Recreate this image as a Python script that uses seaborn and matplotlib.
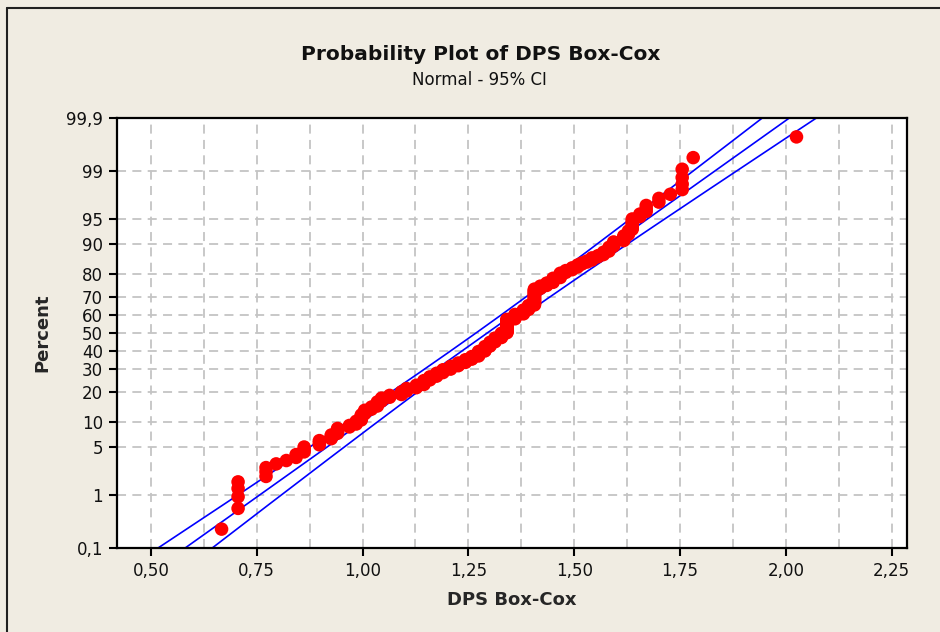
import numpy as np
import pandas as pd
import matplotlib
matplotlib.use("Agg")
import matplotlib.pyplot as plt
from matplotlib.lines import Line2D
from matplotlib.ticker import FixedLocator, MultipleLocator
import seaborn as sns
from statistics import NormalDist

# ---- data (distinct values and how many points share them)
values = [0.667, 0.706, 0.772, 0.796, 0.820, 0.843, 0.862, 0.898, 0.926, 0.941,
          0.969, 0.985, 0.997, 1.005, 1.021, 1.035, 1.045, 1.064, 1.092, 1.104,
          1.127, 1.145, 1.159, 1.175, 1.190, 1.208, 1.226, 1.243, 1.258, 1.274,
          1.289, 1.301, 1.313, 1.328, 1.341, 1.360, 1.380, 1.392, 1.406, 1.420,
          1.435, 1.450, 1.467, 1.480, 1.495, 1.508, 1.518, 1.530, 1.542, 1.556,
          1.569, 1.582, 1.593, 1.617, 1.628, 1.637, 1.655, 1.670, 1.700, 1.727,
          1.755, 1.781, 2.025]
counts = [1, 4, 3, 1, 1, 2, 3, 3, 3, 4,
          2, 3, 5, 4, 3, 5, 4, 3, 4, 4,
          4, 6, 5, 5, 5, 5, 5, 5, 5, 8,
          8, 7, 7, 8, 23, 8, 7, 7, 24, 4,
          4, 6, 6, 3, 3, 3, 2, 2, 3, 2,
          3, 4, 4, 4, 3, 6, 2, 3, 2, 1,
          4, 1, 1]

# fitted normal line
fit_mean = 1.2945
fit_stdev = 0.2309
ci_z = 1.96

x_ticks = [0.50, 0.75, 1.00, 1.25, 1.50, 1.75, 2.00, 2.25]
y_ticks = [0.1, 1, 5, 10, 20, 30, 40, 50, 60, 70, 80, 90, 95, 99, 99.9]

title = "Probability Plot of DPS Box-Cox"
subtitle = "Normal - 95% CI"
x_label = "DPS Box-Cox"
y_label = "Percent"

# ---- normal probability scale
_nd = NormalDist()


def _fwd(p):
    a = np.asarray(p, dtype=float)
    q = np.clip(a / 100.0, 1e-12, 1 - 1e-12)
    out = np.array([_nd.inv_cdf(v) if np.isfinite(v) else np.nan for v in q.ravel()])
    return out.reshape(a.shape)


def _inv(z):
    a = np.asarray(z, dtype=float)
    out = np.array([_nd.cdf(v) * 100.0 if not np.isnan(v) else np.nan for v in a.ravel()])
    return out.reshape(a.shape)


# ---- build plot data
x = np.repeat(np.array(values), counts)
n = len(x)
ranks = np.arange(1, n + 1)
pct = (ranks - 0.3) / (n + 0.4) * 100.0
df = pd.DataFrame({"DPS Box-Cox": x, "Percent": pct})

zgrid = np.linspace(-3.4, 3.4, 300)
xp = fit_mean + zgrid * fit_stdev
hw = ci_z * fit_stdev * np.sqrt(1.0 / n + zgrid ** 2 / (2.0 * n))
pgrid = np.array([_nd.cdf(v) * 100.0 for v in zgrid])
lines = pd.DataFrame({
    "x": np.concatenate([xp - hw, xp, xp + hw]),
    "p": np.concatenate([pgrid, pgrid, pgrid]),
    "which": ["lower"] * len(zgrid) + ["fit"] * len(zgrid) + ["upper"] * len(zgrid),
})

# ---- figure
sns.set_theme(style="white")
plt.rcParams["font.family"] = ["DejaVu Sans"]
bg = "#F0ECE2"
fig = plt.figure(figsize=(9.4, 6.32), dpi=100, facecolor=bg)
ax = fig.add_axes([117 / 940, 1 - 548 / 632, (907 - 117) / 940, (548 - 118) / 632])
ax.set_facecolor("white")

ax.set_yscale("function", functions=(_fwd, _inv))
ax.set_xlim(0.42, 2.286)
ax.set_ylim(0.1, 99.9)

for w in ["lower", "fit", "upper"]:
    sub = lines[lines["which"] == w]
    sns.lineplot(data=sub, x="x", y="p", sort=False, estimator=None,
                 color="#0000FF", linewidth=1.2, ax=ax, zorder=2)

sns.scatterplot(data=df, x="DPS Box-Cox", y="Percent", color="#FF0000", s=95,
                edgecolor="none", linewidth=0, ax=ax, zorder=3)

# ticks
ax.xaxis.set_major_locator(FixedLocator(x_ticks))
ax.set_xticklabels([f"{t:.2f}".replace(".", ",") for t in x_ticks])
ax.xaxis.set_minor_locator(MultipleLocator(0.125))
ax.yaxis.set_major_locator(FixedLocator(y_ticks))
ax.yaxis.set_minor_locator(FixedLocator([]))
ax.set_yticklabels([(f"{t:g}").replace(".", ",") for t in y_ticks])

ax.tick_params(axis="both", which="major", direction="out", length=6, width=1.5,
               color="black", labelsize=12, labelcolor="#111111", pad=4,
               bottom=True, left=True)
ax.tick_params(axis="x", which="minor", length=0)

# grid
ax.set_axisbelow(True)
grid_kw = dict(color="#C4C4C4", linestyle=(0, (5, 3.5)), linewidth=1.3)
ax.grid(True, which="major", axis="both", **grid_kw)
ax.grid(True, which="minor", axis="x", **grid_kw)

for s in ax.spines.values():
    s.set_color("black")
    s.set_linewidth(1.6)

ax.set_xlabel(x_label, fontsize=13, fontweight="bold")
ax.set_ylabel(y_label, fontsize=13, fontweight="bold")
ax.xaxis.set_label_coords(0.5, -0.1)
ax.yaxis.set_label_coords(-0.083, 0.5)

fig.text(481 / 940, 1 - 54 / 632, title, ha="center", va="center",
         fontsize=14.5, fontweight="bold", color="#111111")
fig.text(479 / 940, 1 - 80 / 632, subtitle, ha="center", va="center",
         fontsize=12, color="#111111")

# outer frame (top and left edges visible in reference)
fig.add_artist(Line2D([7 / 940, 7 / 940], [0, 1 - 8 / 632], transform=fig.transFigure,
                      color="#202020", linewidth=1.5))
fig.add_artist(Line2D([7 / 940, 1], [1 - 8 / 632, 1 - 8 / 632], transform=fig.transFigure,
                      color="#202020", linewidth=1.5))

fig.savefig("out.png", dpi=100, facecolor=bg)
